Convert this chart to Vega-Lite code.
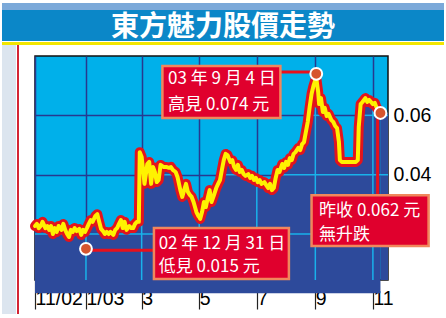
{
  "$schema": "https://vega.github.io/schema/vega-lite/v6.json",
  "background": "#ffffff",
  "padding": {"left": 2, "top": 3, "right": 2, "bottom": 0},
  "spacing": 0,
  "config": {"view": {"stroke": null}, "font": "Liberation Sans"},
  "datasets": {
    "price": [
      {"date": "2002-11-08", "value": 0.0227}, {"date": "2002-11-10", "value": 0.0234}, {"date": "2002-11-12", "value": 0.0220},
      {"date": "2002-11-14", "value": 0.0227}, {"date": "2002-11-16", "value": 0.0241}, {"date": "2002-11-19", "value": 0.0220},
      {"date": "2002-11-21", "value": 0.0227}, {"date": "2002-11-23", "value": 0.0214}, {"date": "2002-11-25", "value": 0.0227},
      {"date": "2002-11-27", "value": 0.0200}, {"date": "2002-11-29", "value": 0.0220}, {"date": "2002-12-01", "value": 0.0207},
      {"date": "2002-12-03", "value": 0.0227}, {"date": "2002-12-06", "value": 0.0214}, {"date": "2002-12-08", "value": 0.0234},
      {"date": "2002-12-10", "value": 0.0214}, {"date": "2002-12-12", "value": 0.0200}, {"date": "2002-12-14", "value": 0.0190},
      {"date": "2002-12-16", "value": 0.0214}, {"date": "2002-12-18", "value": 0.0207}, {"date": "2002-12-20", "value": 0.0220},
      {"date": "2002-12-22", "value": 0.0210}, {"date": "2002-12-25", "value": 0.0217}, {"date": "2002-12-27", "value": 0.0197},
      {"date": "2002-12-29", "value": 0.0214}, {"date": "2002-12-31", "value": 0.0207}, {"date": "2003-01-01", "value": 0.0214},
      {"date": "2003-01-02", "value": 0.0220}, {"date": "2003-01-04", "value": 0.0234}, {"date": "2003-01-06", "value": 0.0247},
      {"date": "2003-01-08", "value": 0.0241}, {"date": "2003-01-11", "value": 0.0261}, {"date": "2003-01-13", "value": 0.0267},
      {"date": "2003-01-15", "value": 0.0241}, {"date": "2003-01-17", "value": 0.0217}, {"date": "2003-01-19", "value": 0.0210},
      {"date": "2003-01-21", "value": 0.0200}, {"date": "2003-01-23", "value": 0.0207}, {"date": "2003-01-25", "value": 0.0200},
      {"date": "2003-01-27", "value": 0.0207}, {"date": "2003-01-30", "value": 0.0197}, {"date": "2003-02-01", "value": 0.0214},
      {"date": "2003-02-03", "value": 0.0220}, {"date": "2003-02-05", "value": 0.0234}, {"date": "2003-02-07", "value": 0.0247},
      {"date": "2003-02-09", "value": 0.0220}, {"date": "2003-02-11", "value": 0.0241}, {"date": "2003-02-13", "value": 0.0214},
      {"date": "2003-02-16", "value": 0.0227}, {"date": "2003-02-18", "value": 0.0220}, {"date": "2003-02-20", "value": 0.0220},
      {"date": "2003-02-22", "value": 0.0234}, {"date": "2003-02-24", "value": 0.0241}, {"date": "2003-02-26", "value": 0.0241},
      {"date": "2003-02-27", "value": 0.0476}, {"date": "2003-03-01", "value": 0.0460}, {"date": "2003-03-03", "value": 0.0402},
      {"date": "2003-03-04", "value": 0.0369}, {"date": "2003-03-07", "value": 0.0436}, {"date": "2003-03-09", "value": 0.0443},
      {"date": "2003-03-11", "value": 0.0369}, {"date": "2003-03-13", "value": 0.0426}, {"date": "2003-03-15", "value": 0.0409},
      {"date": "2003-03-17", "value": 0.0375}, {"date": "2003-03-19", "value": 0.0382}, {"date": "2003-03-21", "value": 0.0433},
      {"date": "2003-03-24", "value": 0.0426}, {"date": "2003-03-27", "value": 0.0426}, {"date": "2003-03-30", "value": 0.0423},
      {"date": "2003-04-01", "value": 0.0426}, {"date": "2003-04-03", "value": 0.0416}, {"date": "2003-04-06", "value": 0.0409},
      {"date": "2003-04-08", "value": 0.0392}, {"date": "2003-04-11", "value": 0.0348}, {"date": "2003-04-13", "value": 0.0325},
      {"date": "2003-04-15", "value": 0.0348}, {"date": "2003-04-17", "value": 0.0369}, {"date": "2003-04-19", "value": 0.0342},
      {"date": "2003-04-21", "value": 0.0332}, {"date": "2003-04-23", "value": 0.0325}, {"date": "2003-04-25", "value": 0.0308},
      {"date": "2003-04-28", "value": 0.0274}, {"date": "2003-04-30", "value": 0.0261}, {"date": "2003-05-01", "value": 0.0257},
      {"date": "2003-05-02", "value": 0.0251}, {"date": "2003-05-04", "value": 0.0274}, {"date": "2003-05-06", "value": 0.0308},
      {"date": "2003-05-08", "value": 0.0291}, {"date": "2003-05-10", "value": 0.0321}, {"date": "2003-05-12", "value": 0.0348},
      {"date": "2003-05-14", "value": 0.0308}, {"date": "2003-05-17", "value": 0.0335}, {"date": "2003-05-19", "value": 0.0355},
      {"date": "2003-05-21", "value": 0.0369}, {"date": "2003-05-23", "value": 0.0382}, {"date": "2003-05-25", "value": 0.0416},
      {"date": "2003-05-27", "value": 0.0449}, {"date": "2003-05-29", "value": 0.0470}, {"date": "2003-05-31", "value": 0.0466},
      {"date": "2003-06-03", "value": 0.0443}, {"date": "2003-06-05", "value": 0.0449}, {"date": "2003-06-07", "value": 0.0426},
      {"date": "2003-06-09", "value": 0.0416}, {"date": "2003-06-11", "value": 0.0433}, {"date": "2003-06-13", "value": 0.0409},
      {"date": "2003-06-15", "value": 0.0416}, {"date": "2003-06-17", "value": 0.0402}, {"date": "2003-06-19", "value": 0.0396},
      {"date": "2003-06-22", "value": 0.0402}, {"date": "2003-06-24", "value": 0.0389}, {"date": "2003-06-26", "value": 0.0396},
      {"date": "2003-06-28", "value": 0.0382}, {"date": "2003-06-30", "value": 0.0389}, {"date": "2003-07-01", "value": 0.0382},
      {"date": "2003-07-02", "value": 0.0375}, {"date": "2003-07-04", "value": 0.0382}, {"date": "2003-07-06", "value": 0.0369},
      {"date": "2003-07-09", "value": 0.0375}, {"date": "2003-07-11", "value": 0.0365}, {"date": "2003-07-13", "value": 0.0355},
      {"date": "2003-07-15", "value": 0.0369}, {"date": "2003-07-17", "value": 0.0348}, {"date": "2003-07-19", "value": 0.0355},
      {"date": "2003-07-21", "value": 0.0389}, {"date": "2003-07-23", "value": 0.0416}, {"date": "2003-07-25", "value": 0.0409},
      {"date": "2003-07-28", "value": 0.0436}, {"date": "2003-07-30", "value": 0.0423}, {"date": "2003-08-01", "value": 0.0443},
      {"date": "2003-08-03", "value": 0.0433}, {"date": "2003-08-05", "value": 0.0456}, {"date": "2003-08-07", "value": 0.0449},
      {"date": "2003-08-09", "value": 0.0470}, {"date": "2003-08-11", "value": 0.0476}, {"date": "2003-08-14", "value": 0.0490},
      {"date": "2003-08-16", "value": 0.0483}, {"date": "2003-08-18", "value": 0.0503}, {"date": "2003-08-20", "value": 0.0510},
      {"date": "2003-08-22", "value": 0.0544}, {"date": "2003-08-24", "value": 0.0578}, {"date": "2003-08-26", "value": 0.0628},
      {"date": "2003-08-28", "value": 0.0672}, {"date": "2003-08-30", "value": 0.0699}, {"date": "2003-09-01", "value": 0.0719},
      {"date": "2003-09-02", "value": 0.0726}, {"date": "2003-09-04", "value": 0.0679}, {"date": "2003-09-05", "value": 0.0638},
      {"date": "2003-09-07", "value": 0.0658}, {"date": "2003-09-09", "value": 0.0611}, {"date": "2003-09-11", "value": 0.0625},
      {"date": "2003-09-13", "value": 0.0598}, {"date": "2003-09-15", "value": 0.0605}, {"date": "2003-09-18", "value": 0.0584},
      {"date": "2003-09-20", "value": 0.0578}, {"date": "2003-09-22", "value": 0.0564}, {"date": "2003-09-24", "value": 0.0557},
      {"date": "2003-09-26", "value": 0.0510}, {"date": "2003-09-27", "value": 0.0449}, {"date": "2003-09-29", "value": 0.0443},
      {"date": "2003-10-03", "value": 0.0443}, {"date": "2003-10-09", "value": 0.0443}, {"date": "2003-10-14", "value": 0.0443},
      {"date": "2003-10-16", "value": 0.0449}, {"date": "2003-10-17", "value": 0.0561}, {"date": "2003-10-19", "value": 0.0638},
      {"date": "2003-10-21", "value": 0.0645}, {"date": "2003-10-24", "value": 0.0658}, {"date": "2003-10-26", "value": 0.0645},
      {"date": "2003-10-28", "value": 0.0652}, {"date": "2003-10-30", "value": 0.0645}, {"date": "2003-11-01", "value": 0.0638},
      {"date": "2003-11-03", "value": 0.0642}, {"date": "2003-11-05", "value": 0.0625}, {"date": "2003-11-07", "value": 0.0618},
      {"date": "2003-11-09", "value": 0.0608}
    ],
    "tail": [
      {"date": "2003-11-09", "date2": "2003-11-17", "value": 0.0608}
    ],
    "hgrid": [
      {"date": "2002-11-08", "date2": "2003-11-17", "value": 0.02},
      {"date": "2003-02-27", "date2": "2003-04-07", "value": 0.04},
      {"date": "2003-05-25", "date2": "2003-06-16", "value": 0.04},
      {"date": "2003-07-22", "date2": "2003-11-17", "value": 0.04},
      {"date": "2003-08-26", "date2": "2003-09-14", "value": 0.06},
      {"date": "2003-10-19", "date2": "2003-11-17", "value": 0.06}
    ],
    "boxes": [
      {"date": "2003-03-23", "date2": "2003-07-26", "value": 0.0766, "value2": 0.0591},
      {"date": "2003-03-14", "date2": "2003-08-04", "value": 0.0220, "value2": 0.0048},
      {"date": "2003-08-28", "date2": "2003-12-30", "value": 0.0331, "value2": 0.0160}
    ],
    "links": [
      {"date": "2003-07-26", "date2": "2003-09-02", "value": 0.0746, "value2": 0.0746},
      {"date": "2003-01-01", "date2": "2003-03-14", "value": 0.0145, "value2": 0.0145},
      {"date": "2003-11-06", "date2": "2003-11-06", "value": 0.0608, "value2": 0.0331}
    ],
    "notes": [
      {"date": "2003-03-29", "value": 0.0722, "label": "03 年 9 月 4 日"},
      {"date": "2003-03-29", "value": 0.0635, "label": "高見 0.074 元"},
      {"date": "2003-03-19", "value": 0.0166, "label": "02 年 12 月 31 日"},
      {"date": "2003-03-19", "value": 0.0089, "label": "低見 0.015 元"},
      {"date": "2003-09-05", "value": 0.0278, "label": "昨收 0.062 元"},
      {"date": "2003-09-05", "value": 0.0197, "label": "無升跌"}
    ],
    "dots": [
      {"date": "2003-01-01", "value": 0.0150},
      {"date": "2003-09-02", "value": 0.0740},
      {"date": "2003-11-09", "value": 0.0608}
    ]
  },
  "vconcat": [
    {
      "width": 442, "height": 7,
      "view": {"fill": "#7ba9d9", "stroke": null},
      "data": {"values": []},
      "mark": {"type": "point", "opacity": 0}
    },
    {
      "width": 442, "height": 31,
      "view": {"fill": "#0b87c8", "stroke": null},
      "data": {"values": [{"t": "東方魅力股價走勢"}]},
      "mark": {"type": "text", "font": "Noto Sans CJK TC", "fontWeight": "bold", "fontSize": 28, "color": "#ffffff", "baseline": "middle", "dy": 2.5},
      "encoding": {"text": {"field": "t"}}
    },
    {
      "width": 442, "height": 3,
      "view": {"fill": "#f2e600", "stroke": null},
      "data": {"values": []},
      "mark": {"type": "point", "opacity": 0}
    },
    {
      "spacing": 10,
      "hconcat": [
        {
          "spacing": 1,
          "hconcat": [
            {
              "width": 14, "height": 269,
              "view": {"fill": "#dce5ef", "stroke": null},
              "data": {"values": []},
              "mark": {"type": "point", "opacity": 0}
            },
            {
              "width": 2, "height": 269,
              "view": {"fill": "#d42434", "stroke": null},
              "data": {"values": []},
              "mark": {"type": "point", "opacity": 0}
            }
          ]
        },
        {
          "spacing": 1,
          "vconcat": [
            {
              "width": 10, "height": 9,
              "data": {"values": []},
              "mark": {"type": "point", "opacity": 0}
            },
            {
              "width": 353, "height": 224,
              "view": {"fill": "#00b0ea", "stroke": "#111111", "strokeWidth": 1.5},
              "encoding": {
                "x": {
                  "field": "date", "type": "temporal",
                  "scale": {"type": "utc", "nice": false, "domain": [{"year": 2002, "month": 11, "date": 8, "utc": true}, {"year": 2003, "month": 11, "date": 17, "utc": true}]},
                  "axis": {
                    "title": null, "orient": "bottom",
                    "values": [
                      {"year": 2002, "month": 11, "date": 8, "utc": true},
                      {"year": 2003, "month": 1, "date": 1, "utc": true},
                      {"year": 2003, "month": 3, "date": 1, "utc": true},
                      {"year": 2003, "month": 5, "date": 1, "utc": true},
                      {"year": 2003, "month": 7, "date": 1, "utc": true},
                      {"year": 2003, "month": 9, "date": 1, "utc": true},
                      {"year": 2003, "month": 11, "date": 1, "utc": true}
                    ],
                    "labelExpr": "utcyear(datum.value) == 2002 ? '11/02' : (utcmonth(datum.value) == 0 ? '1/03' : '' + (utcmonth(datum.value) + 1))",
                    "grid": true, "gridColor": "#27398f", "gridWidth": 1.5,
                    "domain": false,
                    "ticks": true, "tickSize": 29, "tickColor": "#222222", "tickWidth": 1.2,
                    "labelAlign": "left", "labelDx": 2, "labelBaseline": "alphabetic", "labelPadding": -5,
                    "labelFont": "Liberation Sans", "labelFontSize": 19.5, "labelColor": "#000000",
                    "labelFlush": false, "labelOverlap": false
                  }
                },
                "y": {
                  "field": "value", "type": "quantitative",
                  "scale": {"domain": [0.0045, 0.08], "nice": false, "zero": false},
                  "axis": {
                    "title": null, "orient": "right",
                    "values": [0.02, 0.04, 0.06],
                    "labelExpr": "datum.value < 0.03 ? '' : format(datum.value, '.2f')",
                    "grid": true, "gridColor": "#27398f", "gridWidth": 1.5,
                    "domain": false, "ticks": false, "labelPadding": 5,
                    "labelFont": "Liberation Sans", "labelFontSize": 19.5, "labelColor": "#000000", "labelBaseline": "middle"
                  }
                }
              },
              "layer": [
                {
                  "data": {"name": "price"},
                  "mark": {"type": "area", "color": "#2d4a9b"}
                },
                {
                  "data": {"name": "tail"},
                  "mark": {"type": "rect", "color": "#2d4a9b"},
                  "encoding": {"x2": {"field": "date2"}, "y2": {"datum": 0.0045}}
                },
                {
                  "data": {"name": "price"},
                  "transform": [{"filter": "utcyear(toDate(datum.date)) == 2003 && utcdate(toDate(datum.date)) == 1 && utcmonth(toDate(datum.date)) % 2 == 0"}],
                  "mark": {"type": "rule", "color": "#19b2ea", "strokeWidth": 1.5},
                  "encoding": {"y2": {"datum": 0.0045}}
                },
                {
                  "data": {"name": "hgrid"},
                  "mark": {"type": "rule", "color": "#19b2ea", "strokeWidth": 1.5},
                  "encoding": {"x2": {"field": "date2"}}
                },
                {
                  "data": {"name": "price"},
                  "mark": {"type": "line", "color": "#e3141c", "strokeWidth": 10, "strokeJoin": "round", "strokeCap": "round"}
                },
                {
                  "data": {"name": "price"},
                  "mark": {"type": "line", "color": "#fff200", "strokeWidth": 4, "strokeJoin": "round", "strokeCap": "round"}
                },
                {
                  "data": {"name": "links"},
                  "mark": {"type": "rule", "color": "#e8101c", "strokeWidth": 3},
                  "encoding": {"x2": {"field": "date2"}, "y2": {"field": "value2"}}
                },
                {
                  "data": {"name": "boxes"},
                  "mark": {"type": "rect", "fill": "#e0002d", "stroke": "#f0875c", "strokeWidth": 2.5},
                  "encoding": {"x2": {"field": "date2"}, "y2": {"field": "value2"}}
                },
                {
                  "data": {"name": "notes"},
                  "mark": {"type": "text", "align": "left", "baseline": "middle", "color": "#ffffff", "font": "Noto Sans CJK TC", "fontSize": 17},
                  "encoding": {"text": {"field": "label"}}
                },
                {
                  "data": {"name": "dots"},
                  "mark": {"type": "circle", "size": 140, "opacity": 1, "fill": "#d6552e", "stroke": "#ffffff", "strokeWidth": 2}
                }
              ]
            }
          ]
        }
      ]
    }
  ]
}
